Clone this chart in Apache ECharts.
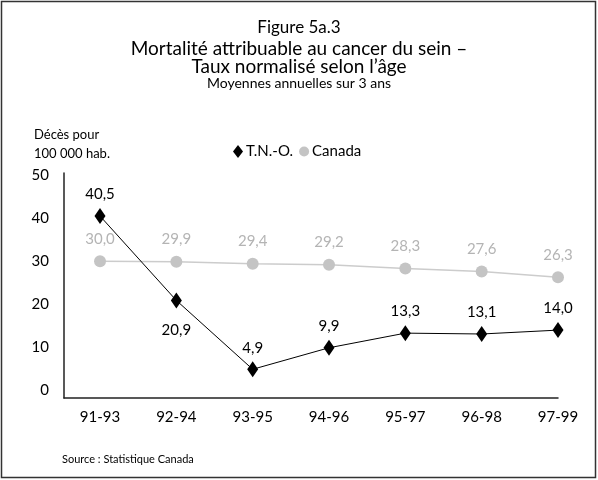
<!DOCTYPE html>
<html><head><meta charset="utf-8">
<script src="https://cdn.jsdelivr.net/npm/echarts@6/dist/echarts.min.js"></script>
<style>html,body{margin:0;padding:0;background:#fff}#c{width:598px;height:480px}</style>
</head><body><div id="c"></div>
<script>
const categories = ['91-93','92-94','93-95','94-96','95-97','96-98','97-99'];
const tnoValues = [40.5, 20.9, 4.9, 9.9, 13.3, 13.1, 14.0];
const canadaValues = [30.0, 29.9, 29.4, 29.2, 28.3, 27.6, 26.3];
const yTicks = [0, 10, 20, 30, 40, 50];
const tnoLabelPos = ['top','bottom','top','top','top','top','top'];

const FONT = 'Lato';
const fmt = v => v.toFixed(1).replace('.', ',');
const chart = echarts.init(document.getElementById('c'), null, {renderer:'canvas'});
chart.setOption({
  backgroundColor: '#fff',
  animation: false,
  textStyle: {fontFamily: FONT},
  title: [
    {text: 'Figure 5a.3', left: 'center', top: 14, textStyle:{fontFamily:FONT, fontSize:17, fontWeight:'normal', color:'#000'}},
    {text: 'Mortalité attribuable au cancer du sein –', left: 'center', top: 34, textStyle:{fontFamily:FONT, fontSize:19, fontWeight:'normal', color:'#000'}},
    {text: 'Taux normalisé selon l’âge', left: 'center', top: 52, textStyle:{fontFamily:FONT, fontSize:19, fontWeight:'normal', color:'#000'}},
    {text: 'Moyennes annuelles sur 3 ans', left: 'center', top: 71, textStyle:{fontFamily:FONT, fontSize:14, fontWeight:'normal', color:'#000'}},
    {text: 'Décès pour\n100 000 hab.', left: 29, top: 120, textStyle:{fontFamily:FONT, fontSize:13, fontWeight:'normal', color:'#000', lineHeight:19}},
    {text: 'Source : Statistique Canada', left: 57, top: 449, textStyle:{fontFamily:FONT, fontSize:11, fontWeight:'normal', color:'#000'}}
  ],
  legend: {
    left: 228, top: 139, itemGap: 6, itemWidth: 10, itemHeight: 13,
    textStyle: {fontFamily: FONT, fontSize: 15, color: '#000', padding:[0,0,0,-2]},
    data: [
      {name: 'T.N.-O.', icon: 'diamond', itemStyle:{color:'#000'}},
      {name: 'Canada', icon: 'circle', itemStyle:{color:'#c4c4c4'}}
    ]
  },
  grid: {left: 64, right: 40, top: 173, bottom: 82, containLabel: false},
  xAxis: {
    type: 'value', min: -0.472, max: 6,
    axisLine: {show:true, onZero:false, lineStyle:{color:'#222', width:1.5}},
    axisTick: {show:false}, splitLine: {show:false},
    axisLabel: {customValues: categories.map((c,i)=>i), formatter: v => categories[Math.round(v)], fontFamily:FONT, fontSize:15, color:'#000', margin:12}
  },
  yAxis: {
    type: 'value', min: -1.77, max: 50.5,
    axisLine: {show:true, onZero:false, lineStyle:{color:'#222', width:1.5}},
    axisTick: {show:false}, splitLine: {show:false},
    axisLabel: {customValues: yTicks, fontFamily:FONT, fontSize:15, color:'#000', margin:15, padding:[5,0,0,0]}
  },
  series: [
    {
      name: 'Canada', type: 'line', z: 2,
      data: canadaValues.map((v,i)=>[i,v]),
      symbol: 'circle', symbolSize: 12, clip: false,
      lineStyle: {color:'#cccccc', width:1.5},
      itemStyle: {color:'#c4c4c4'},
      label: {show:true, position:'top', distance:9, formatter: p => fmt(p.value[1]), fontFamily:FONT, fontSize:15, color:'#b4b4b4'}
    },
    {
      name: 'T.N.-O.', type: 'line', z: 3,
      data: tnoValues.map((v,i)=>({value:[i,v], label:{position: tnoLabelPos[i], distance: tnoLabelPos[i]==='bottom'?14:6}})),
      symbol: 'diamond', symbolSize: [11,16], clip: false,
      lineStyle: {color:'#000', width:1},
      itemStyle: {color:'#000'},
      label: {show:true, formatter: p => fmt(p.value[1]), fontFamily:FONT, fontSize:15, color:'#000'}
    }
  ],
  graphic: [
    {type:'rect', shape:{x:1.5, y:1.5, width:594, height:476}, style:{fill:'none', stroke:'#333', lineWidth:1.5}, silent:true}
  ]
});
</script></body></html>
